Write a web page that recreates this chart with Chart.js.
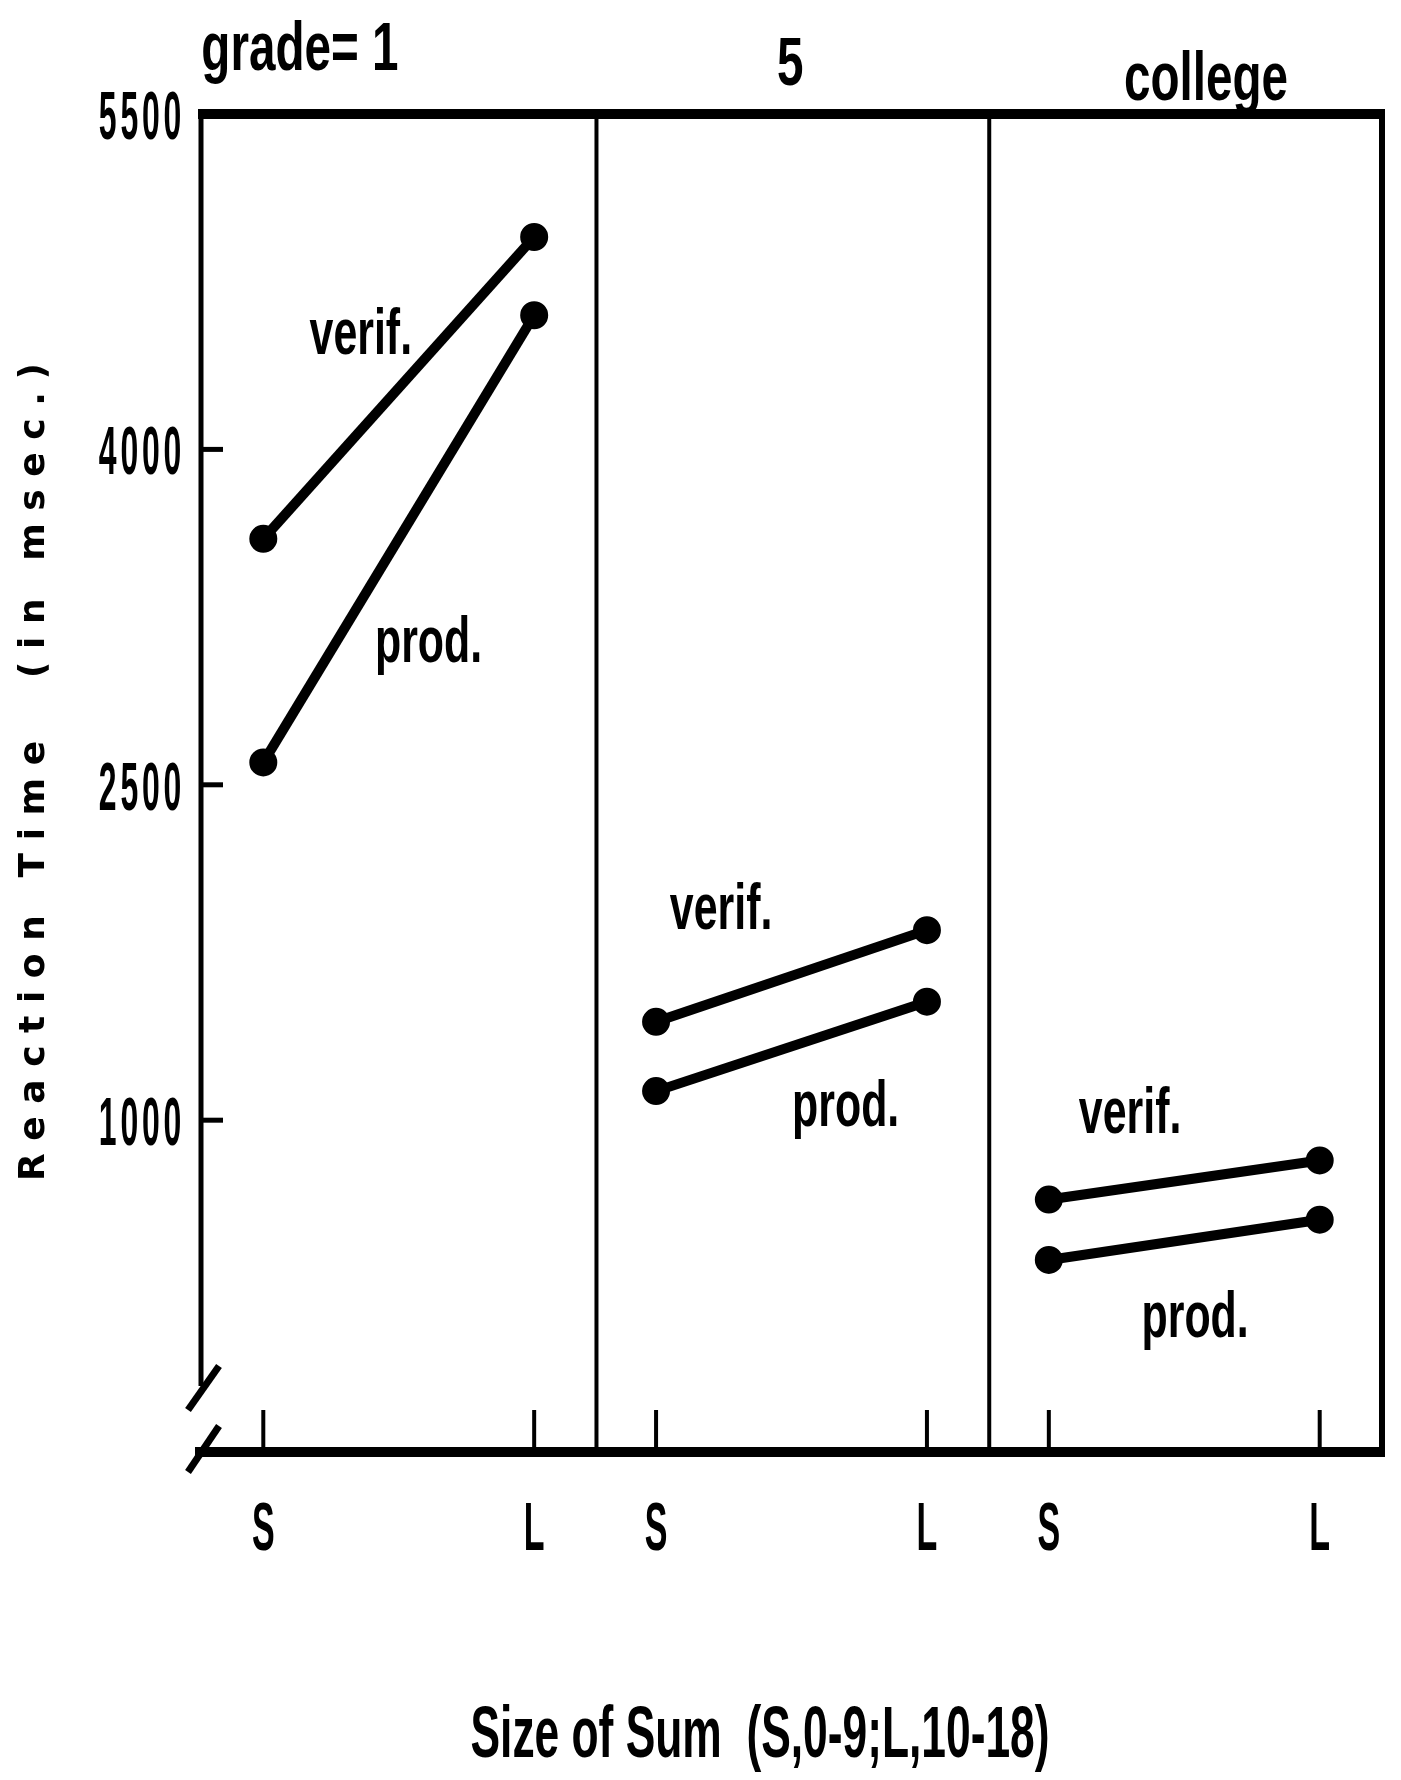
<!DOCTYPE html>
<html>
<head>
<meta charset="utf-8">
<title>Reaction Time by Size of Sum</title>
<script src="https://cdn.jsdelivr.net/npm/chart.js@4.4.1/dist/chart.umd.min.js"></script>
<style>
  html, body { margin: 0; padding: 0; background: #fff; }
  #wrap { width: 1401px; height: 1780px; position: relative; }
</style>
</head>
<body>
<div id="wrap"><canvas id="rtChart" width="1401" height="1780"></canvas></div>
<script>
// panels and sum sizes
const groups = ['grade= 1', '5', 'college'];
const sizes = ['S', 'L'];
// reaction time in msec, [S, L] for each panel
const verifRT = [[3600, 4950], [1440, 1850], [645, 820]];
const prodRT = [[2600, 4600], [1130, 1530], [375, 555]];
const seriesNames = ['verif.', 'prod.'];
const yTickValues = [5500, 4000, 2500, 1000];
const yTickLabels = ['5500', '4000', '2500', '1000'];
const yTitle = 'Reaction Time  (in msec.)';
const xTitle = 'Size of Sum  (S,0-9;L,10-18)';

// layout: x units per panel and gap from S / L to the panel edge
const PANEL_SPAN = 1.45;
const PANEL_PAD = 0.23;
// where the series names sit inside each panel (x in panel units, y in msec)
const nameSpots = [
  [[0.36, 4427], [0.61, 3049]],
  [[0.24, 1855], [0.70, 974]],
  [[0.30, 943], [0.54, 30]]
];
// panel headers: x in panel units, baseline in px (scan is a bit tilted)
const headerSpots = [[0.135, 70], [0.495, 85], [0.58, 100]];

const xOf = (gi, si) => gi * PANEL_SPAN + si;

const datasets = [];
groups.forEach((g, gi) => {
  [verifRT, prodRT].forEach((arr, k) => {
    datasets.push({
      label: seriesNames[k] + ' ' + g,
      data: sizes.map((s, si) => ({ x: xOf(gi, si), y: arr[gi][si] })),
      borderColor: '#000',
      backgroundColor: '#000',
      borderWidth: 10,
      pointRadius: 9,
      pointHoverRadius: 9,
      tension: 0
    });
  });
});

function drawText(ctx, text, x, y, font, sx, align, spacing) {
  ctx.save();
  ctx.font = font;
  if (spacing) ctx.letterSpacing = spacing + 'px';
  ctx.translate(x, y);
  ctx.scale(sx, 1);
  ctx.textAlign = align || 'center';
  ctx.textBaseline = 'alphabetic';
  ctx.fillStyle = '#000';
  ctx.fillText(text, 0, 0);
  ctx.restore();
}

function drawFit(ctx, text, cx, y, font, width) {
  ctx.save();
  ctx.font = font;
  const w = ctx.measureText(text).width;
  ctx.restore();
  drawText(ctx, text, cx, y, font, width / w, 'center');
}

const framePlugin = {
  id: 'frame',
  afterDraw(chart) {
    const { ctx, chartArea: a, scales: { x, y } } = chart;
    ctx.save();
    ctx.strokeStyle = '#000';
    ctx.lineCap = 'butt';
    const line = (w, p) => {
      ctx.lineWidth = w;
      ctx.beginPath();
      ctx.moveTo(p[0], p[1]);
      for (let i = 2; i < p.length; i += 2) ctx.lineTo(p[i], p[i + 1]);
      ctx.stroke();
    };
    // box
    line(10, [a.left - 3, a.top, a.right + 3, a.top]);
    line(6, [a.right, a.top, a.right, a.bottom + 6]);
    line(10, [a.left - 6, a.bottom + 2, a.right + 3, a.bottom + 2]);
    line(5, [a.left, a.top - 3, a.left, a.bottom - 64]);
    // axis break
    line(7, [a.left + 18, a.bottom - 84, a.left - 13, a.bottom - 40]);
    line(7, [a.left + 18, a.bottom - 24, a.left - 13, a.bottom + 22]);
    // panel dividers
    for (let gi = 0; gi < groups.length - 1; gi++) {
      const px = x.getPixelForValue(gi * PANEL_SPAN + 1 + PANEL_PAD);
      line(4, [px, a.top, px, a.bottom]);
    }
    // y ticks and labels
    yTickValues.forEach((v, i) => {
      const py = y.getPixelForValue(v);
      if (v < y.max) line(5, [a.left, py, a.left + 22, py]);
      drawText(ctx, yTickLabels[i], a.left - 16, py + 25, 'bold 68px "Liberation Sans"', 0.47, 'right', 8);
    });
    // x ticks and labels
    groups.forEach((g, gi) => {
      sizes.forEach((s, si) => {
        const px = x.getPixelForValue(xOf(gi, si));
        line(4, [px, a.bottom - 40, px, a.bottom]);
        drawText(ctx, s, px, a.bottom + 100, 'bold 68px "Liberation Sans"', 0.5, 'center');
      });
      // panel header
      const hx = x.getPixelForValue(gi * PANEL_SPAN + headerSpots[gi][0]);
      drawText(ctx, g, hx, headerSpots[gi][1], 'bold 68px "Liberation Sans"', 0.7, 'center');
      // series names
      nameSpots[gi].forEach((spot, k) => {
        const nx = x.getPixelForValue(gi * PANEL_SPAN + spot[0]);
        const ny = y.getPixelForValue(spot[1]);
        drawText(ctx, seriesNames[k], nx, ny, 'bold 64px "Liberation Sans"', 0.67, 'center');
      });
    });
    // y title, rotated, spread out
    ctx.save();
    ctx.font = 'bold 36px "DejaVu Sans"';
    const w0 = ctx.measureText(yTitle).width;
    const sp = (818 - w0) / (yTitle.length - 1);
    ctx.letterSpacing = sp + 'px';
    ctx.translate(44, 772);
    ctx.rotate(-Math.PI / 2);
    ctx.textAlign = 'center';
    ctx.fillStyle = '#000';
    ctx.fillText(yTitle, sp / 2, 0);
    ctx.restore();
    // x title
    drawFit(ctx, xTitle, 760, 1757, 'bold 72px "Liberation Sans"', 579);
    ctx.restore();
  }
};

new Chart(document.getElementById('rtChart').getContext('2d'), {
  type: 'line',
  data: { datasets },
  options: {
    responsive: false,
    animation: false,
    layout: { padding: { left: 201, right: 14, top: 114, bottom: 330 } },
    plugins: { legend: { display: false }, tooltip: { enabled: false } },
    scales: {
      x: { type: 'linear', display: false, min: -PANEL_PAD, max: 2 * PANEL_SPAN + 1 + PANEL_PAD },
      y: { type: 'linear', display: false, min: -475, max: 5500 }
    }
  },
  plugins: [framePlugin]
});
</script>
</body>
</html>
